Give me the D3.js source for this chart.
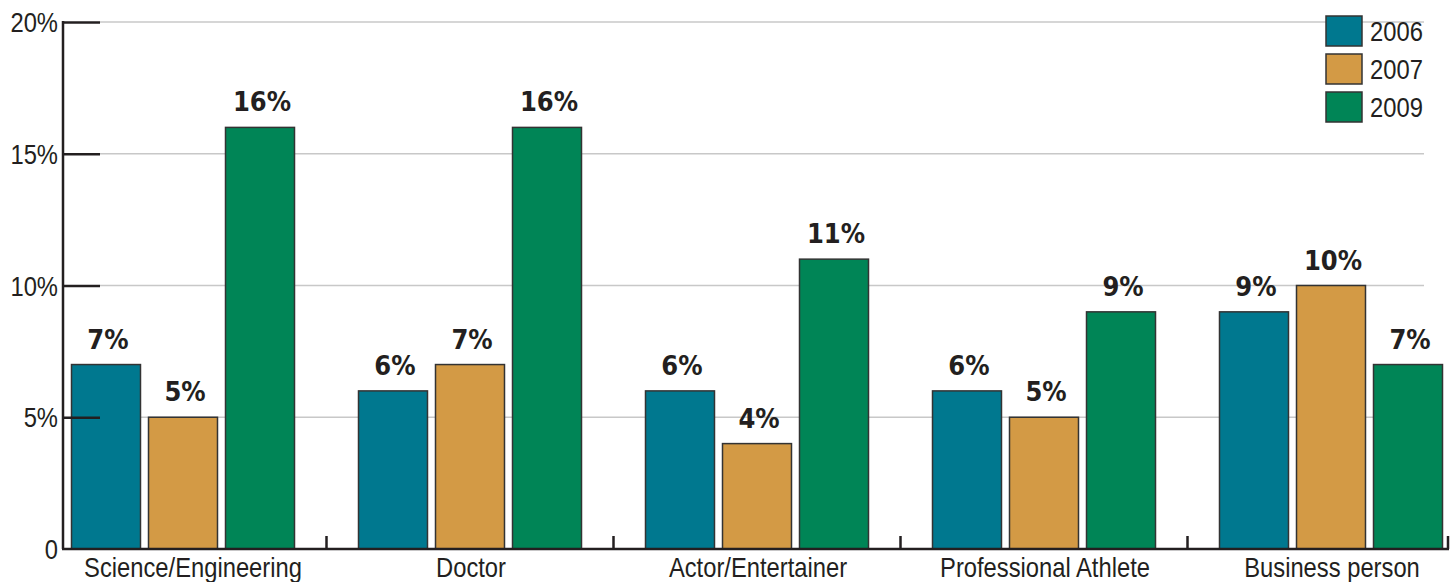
<!DOCTYPE html>
<html>
<head>
<meta charset="utf-8">
<script src="https://cdn.jsdelivr.net/npm/d3@7"></script>
<style>
  body { margin: 0; background: #fff; }
  text { fill: #231f20; }
  .tick-label { font-family: "Liberation Sans", Arial, sans-serif; font-size: 27px; }
  .value-label { font-family: "DejaVu Sans Condensed", "DejaVu Sans", sans-serif; font-weight: bold; font-size: 27px; }
</style>
</head>
<body>
<svg id="chart" width="1456" height="582"></svg>
<script>
// data
const categories = ['Science/Engineering', 'Doctor', 'Actor/Entertainer', 'Professional Athlete', 'Business person']
const years = ['2006', '2007', '2009']
const values2006 = [7, 6, 6, 6, 9]
const values2007 = [5, 7, 4, 5, 10]
const values2009 = [16, 16, 11, 9, 7]
const yTicks = [0, 5, 10, 15, 20]
const colors = ['#00788f', '#d39a45', '#008556']

const series = [values2006, values2007, values2009]
const data = categories.map(function (c, i) {
  return { name: c, values: years.map(function (y, j) { return { year: y, value: series[j][i] } }) }
})

const svg = d3.select('#chart')
const axisX = 63
const axisY = 549
const axisEnd = 1448
const narrow = 0.88 // condensed look for the labels

const x0 = d3.scaleBand().domain(categories).range([39.5, 39.5 + 287 * 5])
const x1 = d3.scaleBand().domain(years).range([0, 223]).paddingInner(0.104)
const groupOffset = (x0.bandwidth() - 223) / 2
const y = d3.scaleLinear().domain([0, 20]).range([axisY, 22])
const color = d3.scaleOrdinal().domain(years).range(colors)

function place (px, py) {
  return 'translate(' + px + ',' + py + ') scale(' + narrow + ',1)'
}

// gridlines
svg.append('g')
  .selectAll('line')
  .data(yTicks.filter(function (d) { return d > 0 }))
  .join('line')
  .attr('x1', 100).attr('x2', 1424)
  .attr('y1', function (d) { return y(d) }).attr('y2', function (d) { return y(d) })
  .attr('stroke', '#c8c8c8').attr('stroke-width', 1.5)

// bars
const groups = svg.append('g')
  .selectAll('g')
  .data(data)
  .join('g')
  .attr('transform', function (d) { return 'translate(' + (x0(d.name) + groupOffset) + ',0)' })

groups.selectAll('rect')
  .data(function (d) { return d.values })
  .join('rect')
  .attr('x', function (d) { return x1(d.year) })
  .attr('y', function (d) { return y(d.value) })
  .attr('width', x1.bandwidth())
  .attr('height', function (d) { return y(0) - y(d.value) })
  .attr('fill', function (d) { return color(d.year) })
  .attr('stroke', '#333').attr('stroke-width', 1.5)

groups.selectAll('text')
  .data(function (d) { return d.values })
  .join('text')
  .attr('class', 'value-label')
  .attr('x', function (d) { return x1(d.year) + x1.bandwidth() / 2 + 2 })
  .attr('y', function (d) { return y(d.value) - 16 })
  .attr('text-anchor', 'middle')
  .text(function (d) { return d.value + '%' })

// y axis
const yAxis = svg.append('g')
  .attr('transform', 'translate(' + axisX + ',0)')
  .call(d3.axisRight(y).tickValues(yTicks).tickSize(37).tickFormat(''))
yAxis.select('.domain').remove()
yAxis.selectAll('.tick line').attr('stroke', '#231f20').attr('stroke-width', 2.5)
yAxis.selectAll('.tick').filter(function (d) { return d === 0 }).select('line').remove()
yAxis.selectAll('.tick text').remove()
yAxis.append('line')
  .attr('x1', 0).attr('x2', 0).attr('y1', y(20) - 1).attr('y2', axisY)
  .attr('stroke', '#231f20').attr('stroke-width', 2.5)
svg.append('g')
  .selectAll('text')
  .data(yTicks)
  .join('text')
  .attr('class', 'tick-label')
  .attr('transform', function (d) { return place(58, y(d) + 10) })
  .attr('text-anchor', 'end')
  .text(function (d) { return d === 0 ? '0' : d + '%' })

// x axis
const xAxis = svg.append('g')
xAxis.append('line')
  .attr('x1', axisX - 1).attr('x2', axisEnd + 1).attr('y1', axisY).attr('y2', axisY)
  .attr('stroke', '#231f20').attr('stroke-width', 2.5)
const boundaries = categories.slice(1).map(function (c) { return x0(c) }).concat([axisEnd])
xAxis.selectAll('.xtick')
  .data(boundaries)
  .join('line')
  .attr('class', 'xtick')
  .attr('x1', function (d) { return d }).attr('x2', function (d) { return d })
  .attr('y1', axisY - 13).attr('y2', axisY)
  .attr('stroke', '#231f20').attr('stroke-width', 2.5)
xAxis.selectAll('text')
  .data(categories)
  .join('text')
  .attr('class', 'tick-label')
  // first label is nudged right so it clears the y axis
  .attr('transform', function (d, i) { return place(x0(d) + groupOffset + 223 / 2 + (i === 0 ? 10 : 1), 577) })
  .attr('text-anchor', 'middle')
  .text(function (d) { return d })

// legend
const legend = svg.append('g')
  .selectAll('g')
  .data(years)
  .join('g')
  .attr('transform', function (d, i) { return 'translate(1326,' + (16 + i * 38) + ')' })
legend.append('rect')
  .attr('width', 36).attr('height', 30)
  .attr('fill', function (d) { return color(d) })
  .attr('stroke', '#333').attr('stroke-width', 1.5)
legend.append('text')
  .attr('class', 'tick-label')
  .attr('transform', place(44, 25))
  .text(function (d) { return d })
</script>
</body>
</html>
